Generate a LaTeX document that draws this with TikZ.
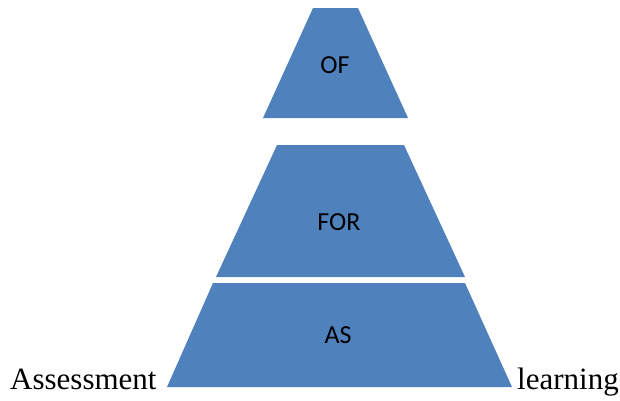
\documentclass[tikz,border=0pt]{standalone}
\usepackage{fontspec}
\setmainfont{Liberation Serif}
\newfontfamily\tierfont{Carlito}
\definecolor{tierblue}{HTML}{4F81BD}

\begin{document}
\begin{tikzpicture}[x=1pt,y=-1pt,
  level/.style={fill=tierblue},
  tier/.style={font=\tierfont\fontsize{26}{26}\selectfont, inner sep=0pt},
  side/.style={font=\fontsize{31}{31}\selectfont, inner sep=0pt}]
\useasboundingbox (0,0) rectangle (620,400);
\fill[level] (313,8) -- (358,8) -- (408,118) -- (263,118) -- cycle;
\fill[level] (277,145) -- (404,145) -- (465,277) -- (216,277) -- cycle;
\fill[level] (213,283) -- (465,283) -- (512,387) -- (167,387) -- cycle;
\node[tier] (of) at (335,65) {OF};
\node[tier] (for) at (339,222) {FOR};
\node[tier] (as) at (338,335) {AS};
\node[side, anchor=base west] (assess) at (10,389) {Assessment};
\node[side, anchor=base west] (learn) at (517,389) {learning};
\end{tikzpicture}
\end{document}
